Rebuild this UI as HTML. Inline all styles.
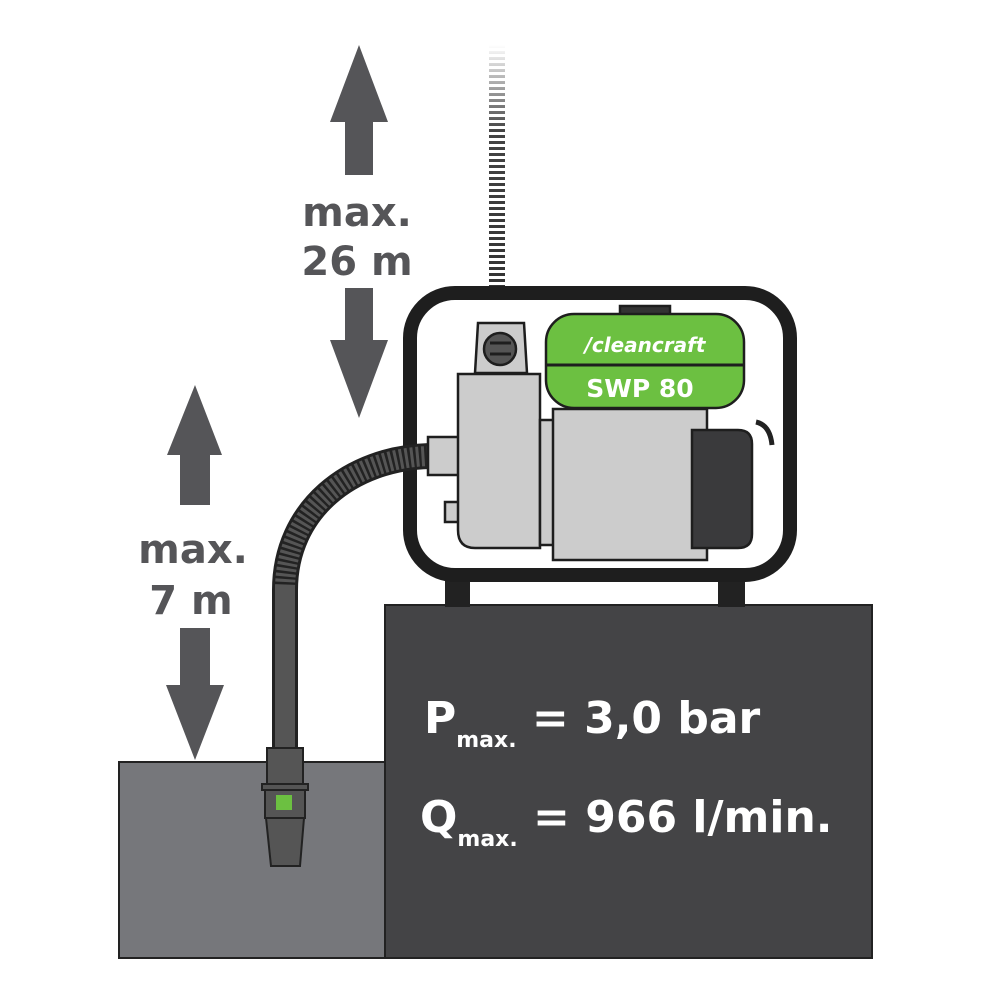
<!DOCTYPE html>
<html><head><style>body{margin:0;background:#fff}svg{display:block}</style></head><body>
<svg width="1000" height="1000" viewBox="0 0 1000 1000" font-family="'DejaVu Sans','Liberation Sans',sans-serif" font-weight="bold">
<defs>
<linearGradient id="fade" gradientUnits="userSpaceOnUse" x1="0" y1="45" x2="0" y2="290"><stop offset="0" stop-color="#fff"/><stop offset="0.35" stop-color="#444"/><stop offset="1" stop-color="#333"/></linearGradient>
<pattern id="str" patternUnits="userSpaceOnUse" width="16" height="6"><rect width="16" height="3" fill="#fff"/></pattern>
</defs>
<!-- big arrows -->
<g fill="#555558">
<polygon points="359,45 388,122 373,122 373,175 345,175 345,122 330,122"/>
<polygon points="345,288 373,288 373,340 388,340 359,418 330,340 345,340"/>
<polygon points="195,385 222,455 210,455 210,505 180,505 180,455 167,455"/>
<polygon points="180,628 210,628 210,685 224,685 195,760 166,685 180,685"/>
</g>
<g fill="#555558" font-size="40" text-anchor="middle">
<text x="357" y="226">max.</text><text x="357" y="275">26 m</text>
<text x="193" y="563">max.</text><text x="191" y="614">7 m</text>
</g>
<!-- striped vertical -->
<rect x="489" y="45" width="16" height="250" fill="url(#fade)"/>
<rect x="489" y="45" width="16" height="250" fill="url(#str)"/>
<!-- water + base -->
<rect x="119" y="762" width="266" height="196" fill="#76777b" stroke="#222" stroke-width="2"/>
<rect x="385" y="605" width="487" height="353" fill="#444446" stroke="#222" stroke-width="2"/>
<!-- legs -->
<rect x="445" y="575" width="25" height="32" fill="#222"/><rect x="718" y="575" width="27" height="32" fill="#222"/>
<!-- frame -->
<rect x="410" y="293" width="380" height="282" rx="45" fill="#fff" stroke="#1e1e1e" stroke-width="14"/>
<!-- hose -->
<path d="M430 456 C350 458 285 510 285 590 L285 775" fill="none" stroke="#222" stroke-width="26"/>
<path d="M430 456 C350 458 285 510 285 590" fill="none" stroke="#555" stroke-width="20" stroke-dasharray="3,2.5"/>
<path d="M285 585 L285 775" stroke="#555" stroke-width="20"/>
<!-- foot valve -->
<g stroke="#222" stroke-width="2">
<rect x="267" y="748" width="36" height="36" fill="#555"/>
<rect x="262" y="784" width="46" height="6" fill="#555"/>
<rect x="265" y="790" width="40" height="28" fill="#555"/>
<rect x="276" y="795" width="16" height="15" fill="#6cc041" stroke="none"/>
<polygon points="266,818 304,818 300,866 271,866" fill="#555"/>
</g>
<!-- pump -->
<g stroke="#1e1e1e" stroke-width="2.5">
<rect x="428" y="437" width="32" height="38" fill="#ccc"/>
<rect x="445" y="502" width="15" height="20" fill="#ccc"/>
<path d="M458 374 H540 V548 H475 Q458 548 458 530 Z" fill="#ccc"/>
<polygon points="478,323 524,323 527,373 475,373" fill="#ccc"/>
<rect x="540" y="420" width="14" height="125" fill="#ccc"/>
<rect x="553" y="409" width="154" height="151" fill="#ccc"/>
<rect x="620" y="306" width="50" height="12" fill="#333"/>
<rect x="546" y="314" width="198" height="94" rx="28" fill="#6cc041"/>
<line x1="546" y1="365" x2="744" y2="365" stroke-width="3"/>
<path d="M692 430 H738 Q752 430 752 444 V534 Q752 548 738 548 H692 Z" fill="#3a3a3c"/>
<circle cx="500" cy="349" r="16" fill="#555"/>
</g>
<path d="M756 422 Q770 425 772 445" fill="none" stroke="#222" stroke-width="5"/>
<g stroke="#1e1e1e" stroke-width="3"><line x1="490" y1="343" x2="511" y2="343"/><line x1="490" y1="354" x2="511" y2="354"/></g>
<text x="645" y="352" fill="#fff" font-size="20" font-style="italic" text-anchor="middle">/cleancraft</text>
<text x="640" y="397" fill="#fff" font-size="25" text-anchor="middle">SWP 80</text>
<!-- specs -->
<g fill="#fff" font-size="44">
<text x="424" y="733">P<tspan font-size="22" dy="14">max.</tspan><tspan dy="-14"> = 3,0 bar</tspan></text>
<text x="420" y="832">Q<tspan font-size="22" dy="14">max.</tspan><tspan dy="-14"> = 966 l/min.</tspan></text>
</g>
</svg>
</body></html>
